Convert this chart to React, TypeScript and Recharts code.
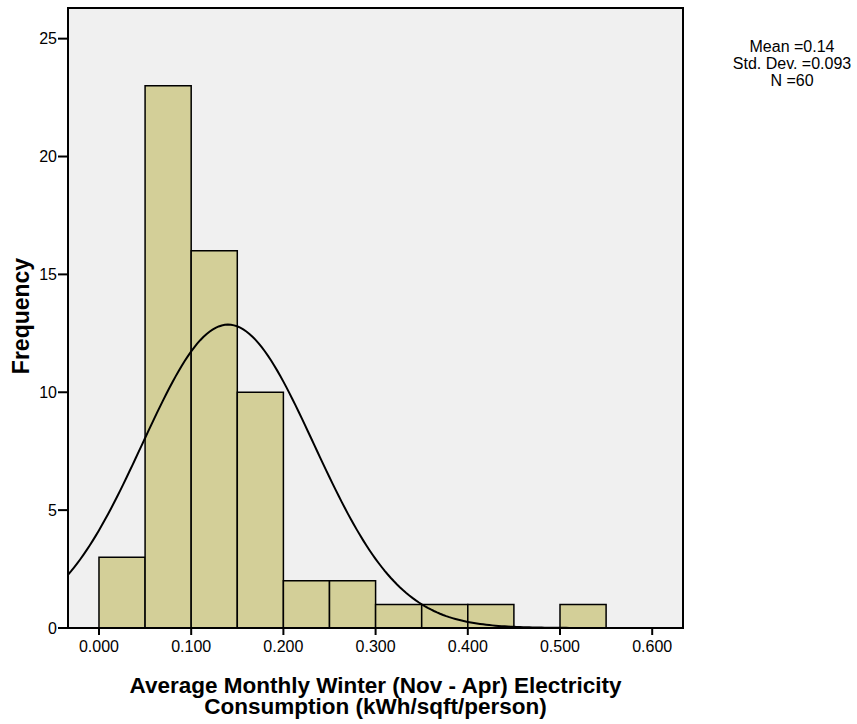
import { ComposedChart, XAxis, YAxis, Line, ReferenceArea, Label } from "recharts"

// histogram bins (left edges) and their counts
const binStarts = [0, 0.05, 0.1, 0.15, 0.2, 0.25, 0.3, 0.35, 0.4, 0.45, 0.5]
const frequencies = [3, 23, 16, 10, 2, 2, 1, 1, 1, 0, 1]
const BIN_WIDTH = 0.05

const xTicks = [0, 0.1, 0.2, 0.3, 0.4, 0.5, 0.6]
const yTicks = [0, 5, 10, 15, 20, 25]

// summary stats shown top-right, also used for the normal curve
const MEAN = 0.14
const STD_DEV = 0.093
const N = 60

const X_MIN = -0.0336
const X_MAX = 0.6334
const Y_MAX = 26.3

const FONT = "'Liberation Sans', Arial, sans-serif"
const BAR_FILL = "#d3cf98"
const PLOT_BG = "#f0f0f0"

const bins = binStarts.map((start, i) => ({
  x1: start,
  x2: start + BIN_WIDTH,
  count: frequencies[i],
}))

// normal density scaled to counts per bin
const normalCurve = () => {
  const pts: { x: number; y: number }[] = []
  const steps = 200
  for (let i = 0; i <= steps; i++) {
    const x = X_MIN + ((X_MAX - X_MIN) * i) / steps
    const z = (x - MEAN) / STD_DEV
    const y = (N * BIN_WIDTH * Math.exp(-0.5 * z * z)) / (STD_DEV * Math.sqrt(2 * Math.PI))
    pts.push({ x, y })
  }
  return pts
}

const curveData = normalCurve()

const XTitle = ({ viewBox }: any) => {
  const cx = viewBox.x + viewBox.width / 2
  const top = viewBox.y
  return (
    <text textAnchor="middle" fontFamily={FONT} fontWeight="bold" fontSize={22.5} fill="#000">
      <tspan x={cx} y={top + 65}>Average Monthly Winter (Nov - Apr) Electricity</tspan>
      <tspan x={cx} y={top + 86}>Consumption (kWh/sqft/person)</tspan>
    </text>
  )
}

const YTitle = ({ viewBox }: any) => {
  const cy = viewBox.y + viewBox.height / 2 - 2
  return (
    <text
      x={29}
      y={cy}
      transform={`rotate(-90, 29, ${cy})`}
      textAnchor="middle"
      fontFamily={FONT}
      fontWeight="bold"
      fontSize={23}
      fill="#000"
    >
      Frequency
    </text>
  )
}

export default function App() {
  return (
    <div style={{ position: "relative", width: 857, height: 724, fontFamily: FONT }}>
      <style>{`body { margin: 0; }`}</style>
      <ComposedChart
        width={857}
        height={724}
        data={curveData}
        margin={{ top: 8, right: 174, bottom: 0, left: 0 }}
      >
        <XAxis
          dataKey="x"
          type="number"
          domain={[X_MIN, X_MAX]}
          allowDataOverflow
          ticks={xTicks}
          tickFormatter={(v: number) => v.toFixed(3)}
          tickSize={7}
          tickMargin={6}
          height={96}
          stroke="#000"
          strokeWidth={2}
          tick={{ fill: "#000", fontSize: 16, fontFamily: FONT }}
        >
          <Label content={<XTitle />} />
        </XAxis>
        <YAxis
          type="number"
          domain={[0, Y_MAX]}
          allowDataOverflow
          ticks={yTicks}
          tickSize={10}
          tickMargin={1}
          width={68}
          stroke="#000"
          strokeWidth={2}
          tick={{ fill: "#000", fontSize: 16, fontFamily: FONT }}
        >
          <Label content={<YTitle />} />
        </YAxis>
        <ReferenceArea
          x1={X_MIN}
          x2={X_MAX}
          y1={0}
          y2={Y_MAX}
          fill={PLOT_BG}
          fillOpacity={1}
          stroke="none"
        />
        {bins
          .filter((b) => b.count > 0)
          .map((b) => (
            <ReferenceArea
              key={b.x1}
              x1={b.x1}
              x2={b.x2}
              y1={0}
              y2={b.count}
              fill={BAR_FILL}
              fillOpacity={1}
              stroke="#000"
              strokeWidth={1.5}
            />
          ))}
        <Line
          dataKey="y"
          type="linear"
          stroke="#000"
          strokeWidth={2}
          dot={false}
          activeDot={false}
          isAnimationActive={false}
        />
        <ReferenceArea
          x1={X_MIN}
          x2={X_MAX}
          y1={0}
          y2={Y_MAX}
          fill="none"
          stroke="#000"
          strokeWidth={2}
        />
      </ComposedChart>
      <div
        style={{
          position: "absolute",
          left: 722,
          top: 38,
          width: 140,
          textAlign: "center",
          fontSize: 16,
          lineHeight: "17px",
          color: "#000",
        }}
      >
        <div>Mean ={MEAN}</div>
        <div>Std. Dev. ={STD_DEV}</div>
        <div>N ={N}</div>
      </div>
    </div>
  )
}
